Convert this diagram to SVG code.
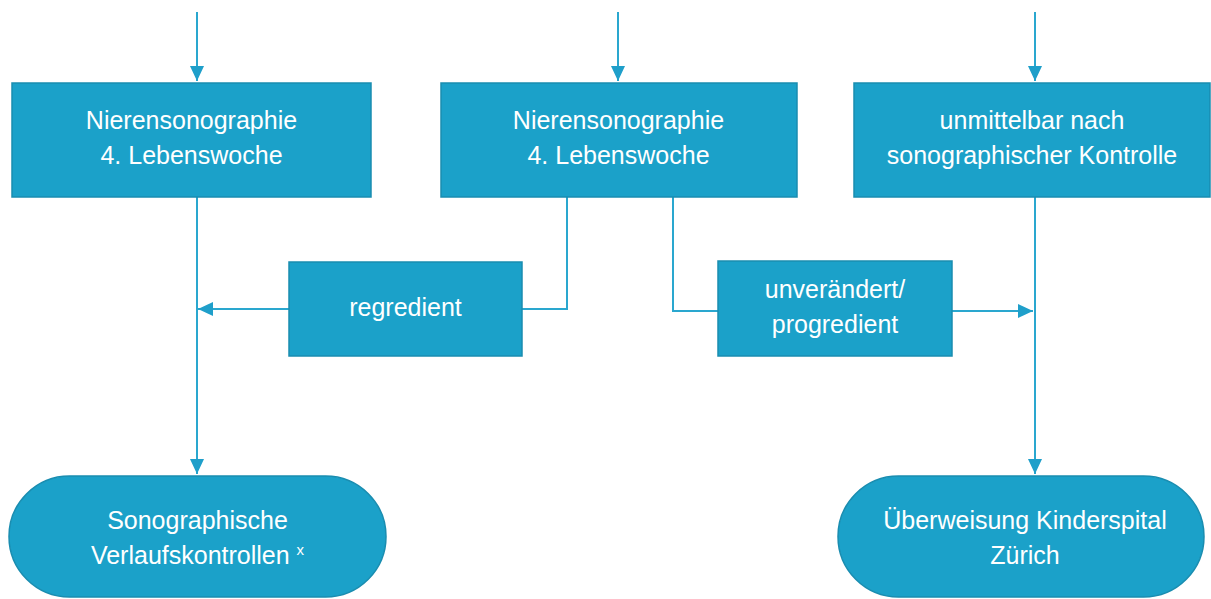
<svg xmlns="http://www.w3.org/2000/svg" width="1211" height="599" viewBox="0 0 1211 599">
<defs>
<style>
.box{fill:#1ba1c9;stroke:#1a8db0;stroke-width:1.5}
.t{font-family:"Liberation Sans",Arial,sans-serif;font-size:25px;fill:#ffffff;text-anchor:middle}
.c{fill:none;stroke:#2aa7cf;stroke-width:2}
</style>
<marker id="ah" markerUnits="userSpaceOnUse" markerWidth="16" markerHeight="15" refX="15" refY="7" orient="auto">
<path d="M0,0 L15,7 L0,14 z" fill="#1f9fca"/>
</marker>
</defs>
<rect width="1211" height="599" fill="#ffffff"/>
<g id="connectors">
<line class="c" x1="197" y1="12" x2="197" y2="81" marker-end="url(#ah)"/>
<line class="c" x1="618" y1="12" x2="618" y2="81" marker-end="url(#ah)"/>
<line class="c" x1="1035" y1="12" x2="1035" y2="81" marker-end="url(#ah)"/>
<line class="c" x1="197" y1="197" x2="197" y2="474" marker-end="url(#ah)"/>
<path class="c" d="M567,197 V309 H522"/>
<line class="c" x1="289" y1="309" x2="198" y2="309" marker-end="url(#ah)"/>
<path class="c" d="M673,197 V311 H718"/>
<line class="c" x1="952" y1="311" x2="1033" y2="311" marker-end="url(#ah)"/>
<line class="c" x1="1035" y1="197" x2="1035" y2="474" marker-end="url(#ah)"/>
</g>
<g id="box1">
<rect class="box" x="12" y="83" width="359" height="114"/>
<text class="t" x="191.5" y="129">Nierensonographie</text>
<text class="t" x="191.5" y="164">4. Lebenswoche</text>
</g>
<g id="box2">
<rect class="box" x="441" y="83" width="356" height="114"/>
<text class="t" x="618.5" y="129">Nierensonographie</text>
<text class="t" x="618.5" y="164">4. Lebenswoche</text>
</g>
<g id="box3">
<rect class="box" x="854" y="83" width="356" height="114"/>
<text class="t" x="1032" y="129">unmittelbar nach</text>
<text class="t" x="1032" y="164">sonographischer Kontrolle</text>
</g>
<g id="regredient">
<rect class="box" x="289" y="262" width="233" height="94"/>
<text class="t" x="405.5" y="316">regredient</text>
</g>
<g id="unveraendert">
<rect class="box" x="718" y="261" width="234" height="95"/>
<text class="t" x="835" y="298">unverändert/</text>
<text class="t" x="835" y="333">progredient</text>
</g>
<g id="verlaufskontrollen">
<rect class="box" x="9" y="476" width="377" height="121" rx="60.5" ry="60.5"/>
<text class="t" x="197.5" y="529">Sonographische</text>
<text class="t" x="197.5" y="564">Verlaufskontrollen <tspan font-size="15" dy="-9">x</tspan></text>
</g>
<g id="ueberweisung">
<rect class="box" x="838" y="476" width="366" height="121" rx="60.5" ry="60.5"/>
<text class="t" x="1025" y="529">Überweisung Kinderspital</text>
<text class="t" x="1025" y="564">Zürich</text>
</g>
</svg>
